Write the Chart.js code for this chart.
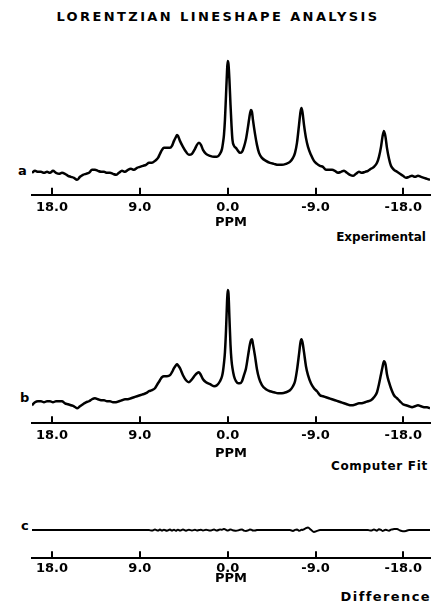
<!DOCTYPE html>
<html>
<head>
<meta charset="utf-8">
<script src="https://cdn.jsdelivr.net/npm/chart.js@4.4.1/dist/chart.umd.min.js"></script>
<style>
  html, body { margin: 0; padding: 0; background: #fff; }
  body { width: 434px; height: 607px; position: relative; overflow: hidden;
         font-family: 'DejaVu Sans', sans-serif; color: #000; }
  canvas { position: absolute; left: 0; }
  .lbl { position: absolute; font-weight: bold; white-space: nowrap; }
</style>
</head>
<body>
<div class="lbl" id="title" style="left:0;width:436px;text-align:center;top:10px;font-size:13px;line-height:13px;letter-spacing:2.4px;">LORENTZIAN LINESHAPE ANALYSIS</div>
<div class="lbl" style="left:18px;top:164px;font-size:13px;line-height:13px;">a</div>
<div class="lbl" style="left:20px;top:391px;font-size:13px;line-height:13px;">b</div>
<div class="lbl" style="left:21px;top:519px;font-size:13px;line-height:13px;">c</div>
<div class="lbl" style="right:8px;top:231px;font-size:12px;line-height:12px;">Experimental</div>
<div class="lbl" style="right:6px;top:460px;font-size:12px;line-height:12px;letter-spacing:0.7px;">Computer Fit</div>
<div class="lbl" style="right:3px;top:590px;font-size:13px;line-height:13px;letter-spacing:1.4px;">Difference</div>

<canvas id="ca" width="434" height="180" style="top:50px"></canvas>
<canvas id="cb" width="434" height="183" style="top:278px"></canvas>
<canvas id="cc" width="434" height="70" style="top:516px"></canvas>

<script>
// Chemical shift grid (ppm)
const PPM = [20.05,19.74,19.44,19.13,18.82,18.51,18.21,17.90,17.59,17.28,16.98,16.67,16.36,16.06,15.75,15.44,15.13,14.83,14.52,14.21,13.90,13.60,13.29,12.98,12.67,12.37,12.06,11.75,11.44,11.14,10.83,10.52,10.22,9.91,9.60,9.29,8.99,8.68,8.37,8.06,7.76,7.45,7.14,6.94,6.73,6.53,6.22,5.91,5.71,5.50,5.30,5.19,5.09,4.89,4.58,4.27,3.97,3.66,3.35,3.15,2.94,2.74,2.53,2.22,1.81,1.40,1.10,0.79,0.58,0.48,0.38,0.28,0.17,0.07,0.00,-0.08,-0.18,-0.29,-0.39,-0.49,-0.65,-0.85,-1.06,-1.26,-1.47,-1.67,-1.88,-2.08,-2.28,-2.39,-2.49,-2.59,-2.80,-3.00,-3.21,-3.51,-3.92,-4.33,-4.74,-5.15,-5.56,-5.97,-6.38,-6.69,-6.90,-7.10,-7.31,-7.46,-7.56,-7.66,-7.82,-8.02,-8.23,-8.53,-8.84,-9.15,-9.46,-9.76,-10.07,-10.38,-10.69,-10.99,-11.30,-11.61,-11.92,-12.22,-12.53,-12.84,-13.15,-13.45,-13.76,-14.07,-14.38,-14.68,-14.99,-15.30,-15.50,-15.71,-15.86,-16.01,-16.17,-16.32,-16.53,-16.73,-17.04,-17.35,-17.65,-17.96,-18.27,-18.58,-18.89,-19.19,-19.50,-19.81,-20.11,-20.42,-20.73];

// (a) Experimental spectrum (arbitrary intensity)
const EXPERIMENTAL = [0,2,1,1,0,1,0,2,0,-1,0,-1,-3,-4,-5,-7,-4,-2,-1,0,3,3,2,1,1,0,0,-1,-2,0,2,1,3,4,3,5,6,7,8,10,10,12,15,19,23,25,25,25,27,32,36,38,37,32,26,21,18,19,24,28,30,28,23,19,17,16,16,19,24,30,38,53,78,101,112,109,93,68,48,33,27,25,22,20,21,26,34,46,59,63,61,53,39,28,20,15,12,10,9,8,8,9,11,15,20,30,48,61,65,61,48,35,26,18,12,9,7,6,3,3,3,2,0,1,2,0,-2,-3,-1,1,0,1,2,4,6,10,16,26,36,42,36,25,14,7,3,1,-1,-3,-5,-4,-3,-4,-3,-4,-5,-6,-7];

// (b) Computer fit (arbitrary intensity)
const COMPUTER_FIT = [-4,-1,0,0,-1,0,0,-1,0,0,0,-2,-3,-4,-5,-7,-5,-3,-1,0,2,3,2,1,1,0,0,-1,-1,0,1,2,2,3,4,5,6,7,8,10,11,13,18,21,24,25,25,26,29,33,36,37,36,33,26,21,19,22,26,28,29,26,22,19,17,15,16,20,25,30,38,49,71,98,111,108,83,56,41,33,25,20,18,18,20,26,33,45,57,61,62,57,45,32,23,16,12,10,9,8,8,9,11,15,20,31,47,59,62,59,49,35,26,18,13,10,6,5,4,3,2,1,0,-1,-2,-3,-4,-4,-3,-2,-2,-1,0,1,4,9,17,27,34,40,37,27,19,13,6,3,0,-3,-4,-5,-6,-5,-4,-5,-6,-6,-7];

// (c) Difference (experimental - fit)
const DIFFERENCE = [0,0,0,0,0,0,0,0,0,0,0,0,0,0,0,0,0,0,0,0,0,0,0,0,0,0,0,0,0,0,0,0,0,0,0,0,0,0,0,0,-0.5,0.5,-0.5,0.5,-0.5,0.4,-0.7,0.5,-0.5,0.3,-0.6,0,0.4,-0.5,0.5,-0.6,0.4,-0.4,0.3,-0.3,0,0.3,-0.4,0.4,-0.5,0.5,-0.4,0.6,0.3,0.8,1.2,0.8,0.3,-0.3,-0.5,-0.2,0.3,0.6,0.3,0,-0.4,-0.6,-0.3,0.4,0.5,-0.5,-0.8,-0.3,0.5,0.4,0,-0.4,-0.5,0.2,0,0,0,0,0,0,0,0,0,-0.8,0.2,0.6,-0.6,-0.3,0.4,0.2,0.8,2.0,2.6,0.3,-1.8,-0.8,0,0,0,0,0,0,0,0,0,0,0,0,0,0,0,0,0,-0.5,0.6,-0.6,0.9,0.2,-0.8,-0.3,0.4,0,-0.6,0.5,1.0,1.2,-0.3,-1.1,-0.8,0,0,0,0,0,0,0,0,0];

const TICKS = [18, 9, 0, -9, -18];
const X_MIN = -20.73, X_MAX = 20.05;

Chart.defaults.color = '#000';
Chart.defaults.font.family = "'DejaVu Sans', sans-serif";

const upTicks = {
  id: 'upTicks',
  afterDraw(chart) {
    const s = chart.scales.x, ctx = chart.ctx;
    ctx.save();
    ctx.strokeStyle = '#000';
    ctx.lineWidth = 2;
    s.ticks.forEach(t => {
      const px = Math.round(s.getPixelForValue(t.value));
      ctx.beginPath();
      ctx.moveTo(px, s.top);
      ctx.lineTo(px, s.top - 7);
      ctx.stroke();
    });
    ctx.restore();
  }
};

function makePanel(id, values, yMin, yMax, lw, tickPad, titlePadTop) {
  const pts = PPM.map((p, i) => ({ x: p, y: values[i] }));
  return new Chart(document.getElementById(id), {
    type: 'line',
    data: { datasets: [{ data: pts, borderColor: '#000', borderWidth: lw, pointRadius: 0,
      cubicInterpolationMode: 'monotone', fill: false }] },
    options: {
      responsive: false, animation: false, devicePixelRatio: 1,
      layout: { padding: { left: 32, right: 4, top: 0, bottom: 0 } },
      plugins: { legend: { display: false }, tooltip: { enabled: false } },
      scales: {
        x: {
          type: 'linear', reverse: true, min: X_MIN, max: X_MAX,
          afterBuildTicks: s => { s.ticks = TICKS.map(v => ({ value: v })); },
          grid: { display: false, drawTicks: false },
          border: { display: true, color: '#000', width: 2 },
          ticks: { padding: tickPad, maxRotation: 0, autoSkip: false, color: '#000',
                   font: { size: 13, weight: 'bold' },
                   callback: v => Number(v).toFixed(1) },
          title: { display: true, text: 'PPM', color: '#000',
                   font: { size: 13, weight: 'bold' },
                   padding: { top: titlePadTop, bottom: 0 } }
        },
        y: { display: false, min: yMin, max: yMax }
      }
    },
    plugins: [upTicks]
  });
}

makePanel('ca', EXPERIMENTAL, -22, 123, 2.5, 5, -6);
makePanel('cb', COMPUTER_FIT, -22, 123, 2.5, 5, -3.5);
makePanel('cc', DIFFERENCE, -28, 14, 2, 3, -9.5);
</script>
</body>
</html>
